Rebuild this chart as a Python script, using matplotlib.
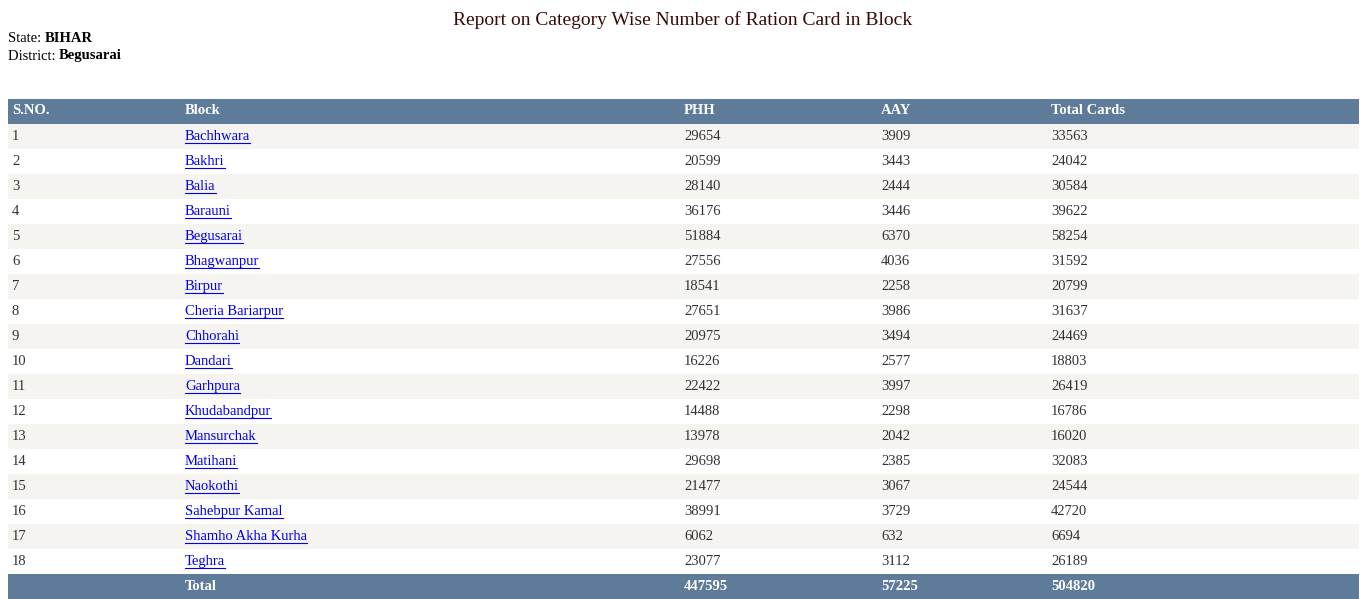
import matplotlib
matplotlib.use("Agg")
import matplotlib.pyplot as plt
from matplotlib.patches import Rectangle

sno = list(range(1, 19))
blocks = ["Bachhwara","Bakhri","Balia","Barauni","Begusarai","Bhagwanpur","Birpur",
          "Cheria Bariarpur","Chhorahi","Dandari","Garhpura","Khudabandpur","Mansurchak",
          "Matihani","Naokothi","Sahebpur Kamal","Shamho Akha Kurha","Teghra"]
phh = [29654,20599,28140,36176,51884,27556,18541,27651,20975,16226,22422,14488,13978,29698,21477,38991,6062,23077]
aay = [3909,3443,2444,3446,6370,4036,2258,3986,3494,2577,3997,2298,2042,2385,3067,3729,632,3112]
total = [33563,24042,30584,39622,58254,31592,20799,31637,24469,18803,26419,16786,16020,32083,24544,42720,6694,26189]
headers = ["S.NO.", "Block", "PHH", "AAY", "Total Cards"]
totals = ["447595", "57225", "504820"]

W, H = 1365, 599
fig = plt.figure(figsize=(W/100, H/100), dpi=100)
ax = fig.add_axes([0, 0, 1, 1])
ax.set_xlim(0, W); ax.set_ylim(H, 0); ax.axis("off")
fam = "Liberation Serif"
fs = 10.5
cols = [12, 185, 684, 881, 1051]
hdr = "#5e7b9a"

ax.text(683, 20, "Report on Category Wise Number of Ration Card in Block", ha="center", va="center",
        fontsize=14, family=fam, color="#3a0a0a")
for y, lab, val in [(39, "State: ", "BIHAR"), (56, "District: ", "Begusarai")]:
    t = ax.text(8, y, lab, va="center", fontsize=fs, family=fam, color="black")
    fig.canvas.draw()
    bb = t.get_window_extent().transformed(ax.transData.inverted())
    ax.text(bb.x1, y, val, va="center", fontsize=fs, family=fam, weight="bold", color="black")

ax.add_patch(Rectangle((8, 99), 1351, 25, color=hdr, lw=0))
for x, h in zip(cols, headers):
    ax.text(x, 111, h, va="center", fontsize=fs, family=fam, weight="bold", color="white")

links = []
for i in range(18):
    y0 = 124 + 25*i
    if i % 2 == 0:
        ax.add_patch(Rectangle((8, y0), 1351, 25, color="#f5f4f0", lw=0))
    yc = y0 + 12.5
    ax.text(cols[0], yc, str(sno[i]), va="center", fontsize=fs, family=fam, color="#333333")
    links.append(ax.text(cols[1], yc, blocks[i], va="center", fontsize=fs, family=fam, color="#0000ee"))
    ax.text(cols[2], yc, str(phh[i]), va="center", fontsize=fs, family=fam, color="#333333")
    ax.text(cols[3], yc, str(aay[i]), va="center", fontsize=fs, family=fam, color="#333333")
    ax.text(cols[4], yc, str(total[i]), va="center", fontsize=fs, family=fam, color="#333333")

ax.add_patch(Rectangle((8, 574), 1351, 25, color=hdr, lw=0))
ax.text(cols[1], 586, "Total", va="center", fontsize=fs, family=fam, weight="bold", color="white")
for x, v in zip(cols[2:], totals):
    ax.text(x, 586, v, va="center", fontsize=fs, family=fam, weight="bold", color="white")

fig.canvas.draw()
inv = ax.transData.inverted()
for t in links:
    bb = t.get_window_extent().transformed(inv)
    yy = t.get_position()[1] + 6
    ax.plot([bb.x0, bb.x1], [yy, yy], color="#0000ee", lw=0.8)

fig.savefig("out.png", dpi=100)
